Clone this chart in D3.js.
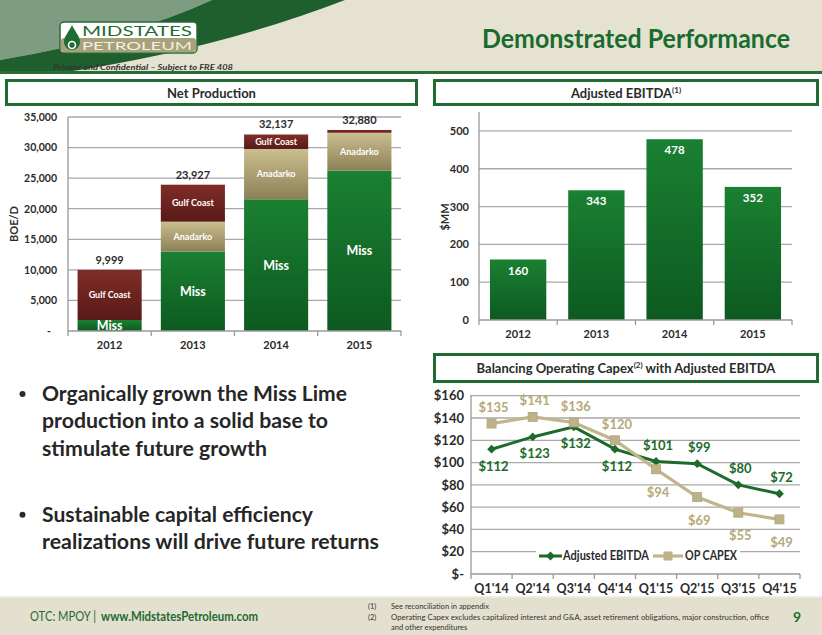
<!DOCTYPE html>
<html><head><meta charset="utf-8">
<script src="https://cdn.jsdelivr.net/npm/d3@7"></script>
<style>body{margin:0;background:#fff}svg{display:block}text{font-family:Lato,'Open Sans',sans-serif}</style>
</head><body><svg id="c" width="822" height="635"></svg>
<script>
// ---------- DATA ----------
const years = ["2012", "2013", "2014", "2015"];
const prodSeries = ["Miss", "Anadarko", "Gulf Coast"];
const missProd = [1800, 13000, 21540, 26220];
const anadarkoProd = [0, 4880, 8230, 6210];
const gulfProd = [8199, 6047, 2367, 450];
const prodTotals = [9999, 23927, 32137, 32880];
const prodTicks = [0, 5000, 10000, 15000, 20000, 25000, 30000, 35000];

const ebitdaAnnual = [160, 343, 478, 352];
const ebitdaTicks = [0, 100, 200, 300, 400, 500];

const quarters = ["Q1'14", "Q2'14", "Q3'14", "Q4'14", "Q1'15", "Q2'15", "Q3'15", "Q4'15"];
const ebitdaQ = [112, 123, 132, 112, 101, 99, 80, 72];
const capexQ = [135, 141, 136, 120, 94, 69, 55, 49];
const qTicks = [0, 20, 40, 60, 80, 100, 120, 140, 160];

const bullets = [
  ["Organically grown the Miss Lime", "production into a solid base to", "stimulate future growth"],
  ["Sustainable capital efficiency", "realizations will drive future returns"]
];

// ---------- SETUP ----------
const svg = d3.select("#c");
const defs = svg.append("defs");
function grad(id, c1, c2) {
  const g = defs.append("linearGradient").attr("id", id).attr("x1", 0).attr("y1", 0).attr("x2", 0).attr("y2", 1);
  g.append("stop").attr("offset", "0%").attr("stop-color", c1);
  g.append("stop").attr("offset", "100%").attr("stop-color", c2);
}
grad("gMiss", "#1a8032", "#0d5a20");
grad("gAna", "#cbbf90", "#8b7f55");
grad("gGulf", "#802d28", "#581a17");
grad("gEb", "#1a8032", "#0d5a20");

const GREEN = "#1c6b2e", GRID = "#a8a8a8", AX = "#9a9a9a", TXT = "#2b2b2b";

svg.append("rect").attr("width", 822).attr("height", 635).attr("fill", "#fff");

// header
svg.append("rect").attr("width", 822).attr("height", 73).attr("fill", "#e6e2d1");
svg.append("path").attr("d", "M0,0 L212,0 Q130,38 0,60 Z").attr("fill", "#7e9c82");
svg.append("path").attr("d", "M212,0 L345,0 Q215,50 60,73 L0,73 L0,60 Q130,38 212,0 Z").attr("fill", "#1f5f2d");
svg.append("rect").attr("y", 71).attr("width", 822).attr("height", 3).attr("fill", "#2a6e36");

// logo
const lg = svg.append("g");
lg.append("rect").attr("x", 60).attr("y", 22).attr("width", 137).attr("height", 31).attr("rx", 4).attr("fill", "#fff").attr("stroke", "#2a6a35").attr("stroke-width", 1.5);
lg.append("rect").attr("x", 61).attr("y", 38).attr("width", 135).attr("height", 14).attr("rx", 3).attr("fill", "#a8a27c");
lg.append("path").attr("d", "M72,25 C69,32 64,36 64,42 A8,8 0 0 0 80,42 C80,36 75,32 72,25 Z").attr("fill", "#1f6b32");
lg.append("circle").attr("cx", 72).attr("cy", 45).attr("r", 3.5).attr("fill", "none").attr("stroke", "#fff").attr("stroke-width", 1.6);
lg.append("text").attr("x", 82).attr("y", 36).attr("font-size", 14).attr("font-family", "Liberation Sans").attr("fill", "#1f6b32").attr("textLength", 110).attr("lengthAdjust", "spacingAndGlyphs").text("MIDSTATES");
lg.append("text").attr("x", 82).attr("y", 50).attr("font-size", 12).attr("font-family", "Liberation Sans").attr("fill", "#f3f0e2").attr("textLength", 110).attr("lengthAdjust", "spacingAndGlyphs").text("PETROLEUM");
svg.append("text").attr("x", 53).attr("y", 70).attr("font-size", 8).attr("font-style", "italic").attr("font-weight", "bold").attr("font-family", "Liberation Sans").attr("fill", "#333").attr("textLength", 180).attr("lengthAdjust", "spacingAndGlyphs").text("Private and Confidential – Subject to FRE 408");

svg.append("text").attr("x", 790).attr("y", 48).attr("text-anchor", "end").attr("font-size", 26).attr("font-weight", "bold").attr("fill", "#1a6b2e").attr("textLength", 308).attr("lengthAdjust", "spacingAndGlyphs").text("Demonstrated Performance");

// panel headers
function panel(x, y, w, h, label, sup, rest) {
  svg.append("rect").attr("x", x).attr("y", y).attr("width", w).attr("height", h).attr("fill", "#fff").attr("stroke", "#1f6b32").attr("stroke-width", 3);
  const t = svg.append("text").attr("x", x + w / 2).attr("y", y + h / 2 + 5).attr("text-anchor", "middle").attr("font-size", 13).attr("font-weight", "bold").attr("fill", TXT).text(label);
  if (sup) t.append("tspan").attr("font-size", 8).attr("dy", -5).text(sup);
  if (rest) t.append("tspan").attr("dy", 5).text(rest);
}
panel(6.5, 80.5, 410, 24, "Net Production");
panel(434.5, 80.5, 383, 24, "Adjusted EBITDA", "(1)");
panel(434.5, 354.5, 383, 27, "Balancing Operating Capex", "(2)", " with Adjusted EBITDA");

function styleAxis(g, size) {
  g.select(".domain").remove();
  g.attr("font-family", "Lato, sans-serif").attr("font-size", size).attr("font-weight", "bold");
  g.selectAll("text").attr("fill", TXT);
}

// ---------- NET PRODUCTION ----------
const npX = d3.scaleBand().domain(years).range([68, 401]).paddingInner(0.23).paddingOuter(0.115);
const npY = d3.scaleLinear().domain([0, 35000]).range([331, 117]);
const np = svg.append("g");
np.selectAll(".g").data(prodTicks.filter(d => d > 0)).join("line")
  .attr("x1", 68).attr("x2", 401).attr("y1", d => npY(d)).attr("y2", d => npY(d)).attr("stroke", GRID).attr("stroke-width", 1.3);
np.append("g").attr("transform", "translate(68,0)")
  .call(d3.axisLeft(npY).tickValues(prodTicks).tickFormat(d => d === 0 ? "-" : d3.format(",")(d)).tickSize(0).tickPadding(11))
  .call(g => styleAxis(g, 10.5))
  .call(g => g.selectAll("text").filter(d => d === 0).attr("dx", -6));
np.append("line").attr("x1", 68).attr("x2", 68).attr("y1", 117).attr("y2", 331).attr("stroke", AX).attr("stroke-width", 1.3);

const rows = years.map((y, i) => ({ year: y, "Miss": missProd[i], "Anadarko": anadarkoProd[i], "Gulf Coast": gulfProd[i] }));
const stacked = d3.stack().keys(prodSeries)(rows);
const fills = { "Miss": "url(#gMiss)", "Anadarko": "url(#gAna)", "Gulf Coast": "url(#gGulf)" };
stacked.forEach(layer => {
  np.selectAll(null).data(layer).join("rect")
    .attr("x", d => npX(d.data.year)).attr("width", npX.bandwidth())
    .attr("y", d => npY(d[1])).attr("height", d => npY(d[0]) - npY(d[1])).attr("fill", fills[layer.key]);
  np.selectAll(null).data(layer.filter(d => npY(d[0]) - npY(d[1]) > 5)).join("text")
    .attr("x", d => npX(d.data.year) + npX.bandwidth() / 2)
    .attr("y", d => (npY(d[0]) + npY(d[1])) / 2)
    .attr("dy", "0.35em").attr("text-anchor", "middle")
    .attr("font-size", layer.key === "Miss" ? 12.5 : 9).attr("font-weight", "bold").attr("fill", "#fff")
    .text(layer.key);
});
np.selectAll(null).data(years).join("text")
  .attr("x", d => npX(d) + npX.bandwidth() / 2).attr("y", (d, i) => npY(prodTotals[i]) - 10)
  .attr("dy", "0.35em").attr("text-anchor", "middle").attr("font-size", 11).attr("font-weight", "bold").attr("fill", TXT)
  .text((d, i) => d3.format(",")(prodTotals[i]));
np.append("line").attr("x1", 68).attr("x2", 401).attr("y1", 331).attr("y2", 331).attr("stroke", AX).attr("stroke-width", 1.3);
np.selectAll(null).data(d3.range(years.length + 1)).join("line")
  .attr("x1", i => 68 + i * (333 / years.length)).attr("x2", i => 68 + i * (333 / years.length))
  .attr("y1", 331).attr("y2", 336).attr("stroke", AX).attr("stroke-width", 1.3);
np.selectAll(null).data(years).join("text")
  .attr("x", d => npX(d) + npX.bandwidth() / 2).attr("y", 345).attr("dy", "0.35em").attr("text-anchor", "middle")
  .attr("font-size", 11).attr("font-weight", "bold").attr("fill", TXT).text(d => d);
np.append("text").attr("transform", "translate(14,224) rotate(-90)").attr("text-anchor", "middle").attr("dy", "0.35em")
  .attr("font-size", 11).attr("font-weight", "bold").attr("fill", TXT).text("BOE/D");

// ---------- ADJUSTED EBITDA ----------
const ebX = d3.scaleBand().domain(years).range([479, 792]).paddingInner(0.28).paddingOuter(0.14);
const ebY = d3.scaleLinear().domain([0, 550]).range([320, 112]);
const eb = svg.append("g");
eb.selectAll(null).data(ebitdaTicks.filter(d => d > 0)).join("line")
  .attr("x1", 479).attr("x2", 792).attr("y1", d => ebY(d)).attr("y2", d => ebY(d)).attr("stroke", GRID).attr("stroke-width", 1.3);
eb.append("g").attr("transform", "translate(479,0)")
  .call(d3.axisLeft(ebY).tickValues(ebitdaTicks).tickSize(0).tickPadding(10))
  .call(g => styleAxis(g, 11));
eb.append("line").attr("x1", 479).attr("x2", 479).attr("y1", 112).attr("y2", 320).attr("stroke", AX).attr("stroke-width", 1.3);
eb.selectAll(null).data(years).join("rect")
  .attr("x", d => ebX(d)).attr("width", ebX.bandwidth())
  .attr("y", (d, i) => ebY(ebitdaAnnual[i])).attr("height", (d, i) => ebY(0) - ebY(ebitdaAnnual[i])).attr("fill", "url(#gEb)");
eb.selectAll(null).data(years).join("text")
  .attr("x", d => ebX(d) + ebX.bandwidth() / 2).attr("y", (d, i) => ebY(ebitdaAnnual[i]) + 11)
  .attr("dy", "0.35em").attr("text-anchor", "middle").attr("font-size", 11.5).attr("font-weight", "bold").attr("fill", "#fff")
  .text((d, i) => ebitdaAnnual[i]);
eb.append("line").attr("x1", 479).attr("x2", 792).attr("y1", 320).attr("y2", 320).attr("stroke", AX).attr("stroke-width", 1.3);
eb.selectAll(null).data(d3.range(years.length + 1)).join("line")
  .attr("x1", i => 479 + i * (313 / years.length)).attr("x2", i => 479 + i * (313 / years.length))
  .attr("y1", 320).attr("y2", 325).attr("stroke", AX).attr("stroke-width", 1.3);
eb.selectAll(null).data(years).join("text")
  .attr("x", d => ebX(d) + ebX.bandwidth() / 2).attr("y", 334).attr("dy", "0.35em").attr("text-anchor", "middle")
  .attr("font-size", 11).attr("font-weight", "bold").attr("fill", TXT).text(d => d);
eb.append("text").attr("transform", "translate(445,217) rotate(-90)").attr("text-anchor", "middle").attr("dy", "0.35em")
  .attr("font-size", 11).attr("font-weight", "bold").attr("fill", TXT).text("$MM");

// ---------- QUARTERLY LINES ----------
const qX = d3.scalePoint().domain(quarters).range([471, 800]).padding(0.5);
const qY = d3.scaleLinear().domain([0, 160]).range([574, 395.7]);
const q = svg.append("g");
q.selectAll(null).data(qTicks.filter(d => d > 0)).join("line")
  .attr("x1", 471).attr("x2", 800).attr("y1", d => qY(d)).attr("y2", d => qY(d)).attr("stroke", GRID).attr("stroke-width", 1.3);
q.append("g").attr("transform", "translate(471,0)")
  .call(d3.axisLeft(qY).tickValues(qTicks).tickFormat(d => d === 0 ? "$-" : "$" + d).tickSize(0).tickPadding(7))
  .call(g => styleAxis(g, 13));
q.append("line").attr("x1", 471).attr("x2", 471).attr("y1", 395).attr("y2", 574).attr("stroke", AX).attr("stroke-width", 1.3);
q.append("line").attr("x1", 471).attr("x2", 800).attr("y1", 574).attr("y2", 574).attr("stroke", AX).attr("stroke-width", 1.3);
q.selectAll(null).data(d3.range(quarters.length + 1)).join("line")
  .attr("x1", i => 471 + i * (329 / quarters.length)).attr("x2", i => 471 + i * (329 / quarters.length))
  .attr("y1", 574).attr("y2", 579).attr("stroke", AX).attr("stroke-width", 1.3);
q.selectAll(null).data(quarters).join("text")
  .attr("x", d => qX(d)).attr("y", 589).attr("dy", "0.35em").attr("text-anchor", "middle")
  .attr("font-size", 12.5).attr("font-weight", "bold").attr("fill", TXT).text(d => d);

const EBC = "#1d6b2c", CPC = "#c1b58b", CPL = "#b6a978";
const lineGen = d3.line().x((d, i) => qX(quarters[i])).y(d => qY(d));
q.append("path").datum(ebitdaQ).attr("d", lineGen).attr("fill", "none").attr("stroke", EBC).attr("stroke-width", 3);
q.selectAll(null).data(ebitdaQ).join("path")
  .attr("d", d3.symbol(d3.symbolDiamond2, 50)).attr("transform", (d, i) => `translate(${qX(quarters[i])},${qY(d)})`).attr("fill", EBC);
q.append("path").datum(capexQ).attr("d", lineGen).attr("fill", "none").attr("stroke", CPC).attr("stroke-width", 3.2);
q.selectAll(null).data(capexQ).join("rect")
  .attr("x", (d, i) => qX(quarters[i]) - 4.5).attr("y", d => qY(d) - 4.5).attr("width", 9).attr("height", 9)
  .attr("fill", "#beb288").attr("stroke", "#b0a47a").attr("stroke-width", 0.8);

q.selectAll(null).data(ebitdaQ).join("text")
  .attr("x", (d, i) => qX(quarters[i]) + 2).attr("y", (d, i) => qY(d) + (d < capexQ[i] ? 17 : -16))
  .attr("dy", "0.35em").attr("text-anchor", "middle").attr("font-size", 13).attr("font-weight", "bold").attr("fill", EBC)
  .text(d => "$" + d);
q.selectAll(null).data(capexQ).join("text")
  .attr("x", (d, i) => qX(quarters[i]) + 2).attr("y", (d, i) => qY(d) + (d > ebitdaQ[i] ? -16 : 23))
  .attr("dy", "0.35em").attr("text-anchor", "middle").attr("font-size", 13).attr("font-weight", "bold").attr("fill", CPL)
  .text(d => "$" + d);

// legend
const lgd = q.append("g");
lgd.append("rect").attr("x", 536).attr("y", 546).attr("width", 204).attr("height", 19).attr("fill", "#fff");
lgd.append("line").attr("x1", 539).attr("x2", 562).attr("y1", 556).attr("y2", 556).attr("stroke", EBC).attr("stroke-width", 3);
lgd.append("path").attr("d", d3.symbol(d3.symbolDiamond2, 50)).attr("transform", "translate(550.5,556)").attr("fill", EBC);
lgd.append("text").attr("x", 563).attr("y", 556).attr("dy", "0.35em").attr("font-size", 12.5).attr("font-weight", "bold").attr("fill", TXT)
  .attr("textLength", 86).attr("lengthAdjust", "spacingAndGlyphs").text("Adjusted EBITDA");
lgd.append("line").attr("x1", 653).attr("x2", 683).attr("y1", 556).attr("y2", 556).attr("stroke", CPC).attr("stroke-width", 3.2);
lgd.append("rect").attr("x", 663.5).attr("y", 551.5).attr("width", 9).attr("height", 9).attr("fill", "#beb288");
lgd.append("text").attr("x", 685).attr("y", 556).attr("dy", "0.35em").attr("font-size", 12.5).attr("font-weight", "bold").attr("fill", TXT)
  .attr("textLength", 52).attr("lengthAdjust", "spacingAndGlyphs").text("OP CAPEX");

// ---------- BULLETS ----------
const bulletTop = [401, 521.7];
const bulletW = [[305, 286, 225], [271, 337]];
bullets.forEach((lines, b) => {
  svg.append("circle").attr("cx", 22.5).attr("cy", bulletTop[b] - 7).attr("r", 3).attr("fill", TXT);
  lines.forEach((ln, j) => {
    svg.append("text").attr("x", 42).attr("y", bulletTop[b] + j * 27.3).attr("font-size", 20).attr("font-weight", "bold").attr("fill", "#262626")
      .attr("textLength", bulletW[b][j]).attr("lengthAdjust", "spacingAndGlyphs").text(ln);
  });
});

// ---------- FOOTER ----------
svg.append("rect").attr("y", 597).attr("width", 822).attr("height", 38).attr("fill", "#e4e0cf");
svg.append("rect").attr("y", 596).attr("width", 822).attr("height", 1.5).attr("fill", "#f1eee4");
svg.append("text").attr("x", 30).attr("y", 621).attr("font-size", 13).attr("fill", "#1f6b32")
  .attr("textLength", 66).attr("lengthAdjust", "spacingAndGlyphs").text("OTC: MPOY |");
svg.append("text").attr("x", 101).attr("y", 621).attr("font-size", 13).attr("font-weight", "bold").attr("fill", "#1f6b32")
  .attr("textLength", 157).attr("lengthAdjust", "spacingAndGlyphs").text("www.MidstatesPetroleum.com");
const notes = [["(1)", "See reconciliation in appendix"], ["(2)", "Operating Capex excludes capitalized interest and G&A, asset retirement obligations, major construction, office"], ["", "and other expenditures"]];
notes.forEach((n, i) => {
  const yy = 609 + i * 10.5;
  if (n[0]) svg.append("text").attr("x", 368).attr("y", yy).attr("font-size", 7.5).attr("fill", "#333").text(n[0]);
  const t = svg.append("text").attr("x", 391).attr("y", yy).attr("font-size", 7.5).attr("fill", "#333").text(n[1]);
  if (i === 1) t.attr("textLength", 378).attr("lengthAdjust", "spacingAndGlyphs");
});
svg.append("text").attr("x", 797).attr("y", 622).attr("text-anchor", "middle").attr("font-size", 14).attr("font-weight", "bold").attr("fill", "#1f6b32").text("9");
</script></body></html>
